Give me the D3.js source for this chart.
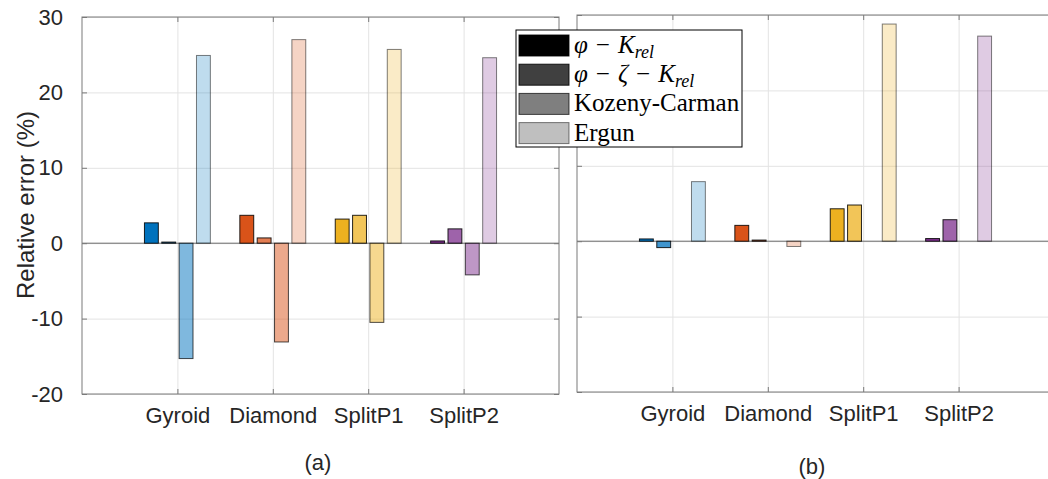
<!DOCTYPE html>
<html lang="en">
<head>
    <meta charset="UTF-8">
    <title>Relative error</title>
    <script src="https://d3js.org/d3.v7.min.js"></script>
    <style>
        body { margin: 0; background: #fff; }
        svg { display: block; }
        .tick text { font-family: "Liberation Sans", Arial, sans-serif; font-size: 22px; fill: #262626; }
        .grid line { stroke: #e3e3e3; stroke-width: 1; }
        .grid path, .ticks path { display: none; }
        .ticks line { stroke: #7a7a7a; }
        .lbl { font-family: "Liberation Sans", Arial, sans-serif; fill: #262626; }
        .leg { font-family: "Liberation Serif", "Times New Roman", serif; font-size: 25px; fill: #000; }
    </style>
</head>
<body>
    <script>
        const width = 1048;
        const height = 479;

        // data
        const categories = ["Gyroid", "Diamond", "SplitP1", "SplitP2"];
        const methods = ["φ − K_rel", "φ − ζ − K_rel", "Kozeny-Carman", "Ergun"];
        const yTicks = [-20, -10, 0, 10, 20, 30];

        // panel (a)
        const a_phiK      = [2.7, 3.7, 3.2, 0.3];
        const a_phiZetaK  = [0.15, 0.7, 3.7, 1.9];
        const a_kozeny    = [-15.3, -13.1, -10.5, -4.2];
        const a_ergun     = [24.9, 27.0, 25.7, 24.6];
        // panel (b)
        const b_phiK      = [0.3, 2.1, 4.3, 0.35];
        const b_phiZetaK  = [-0.85, 0.15, 4.8, 2.85];
        const b_kozeny    = [0, 0, 0, 0];
        const b_ergun     = [7.9, -0.7, 28.8, 27.2];

        const baseColors = ["#0072BD", "#D95319", "#EDB120", "#7E2F8E"];
        const alphas = [1, 0.75, 0.5, 0.25];
        const edgeAlpha = [0.85, 0.85, 0.7, 0.5];

        let svg = d3.select("body")
            .append("svg")
            .attr("width", width)
            .attr("height", height);

        function drawPanel(series, box, showLabels, caption) {
            const x = d3.scaleLinear().domain([0, 5]).range([box.left, box.right]);
            const y = d3.scaleLinear().domain([-20, 30]).range([box.bottom, box.top]);
            const g = svg.append("g");

            // grid
            g.append("g").attr("class", "grid")
                .attr("transform", `translate(${box.left},0)`)
                .call(d3.axisLeft(y).tickValues(yTicks).tickSize(-(box.right - box.left)).tickFormat(""));
            g.append("g").attr("class", "grid")
                .attr("transform", `translate(0,${box.bottom})`)
                .call(d3.axisBottom(x).tickValues([1, 2, 3, 4]).tickSize(-(box.bottom - box.top)).tickFormat(""));

            // bars, matlab style grouping
            const nS = series.length;
            const groupW = Math.min(0.8, nS / (nS + 1.5));
            const step = groupW / nS;
            const barW = step * 0.8;
            const rows = [];
            series.forEach((vals, j) => {
                vals.forEach((v, i) => rows.push({ i, j, v }));
            });

            // baseline
            g.append("line")
                .attr("x1", box.left).attr("x2", box.right)
                .attr("y1", y(0)).attr("y2", y(0))
                .attr("stroke", "#6a6a6a").attr("stroke-width", 1);

            g.selectAll("rect.bar")
                .data(rows)
                .enter()
                .append("rect")
                .attr("class", "bar")
                .attr("x", d => x(d.i + 1 + (d.j - (nS - 1) / 2) * step - barW / 2))
                .attr("width", x(barW) - x(0))
                .attr("y", d => y(Math.max(0, d.v)))
                .attr("height", d => Math.abs(y(d.v) - y(0)))
                .attr("fill", d => baseColors[d.i])
                .attr("fill-opacity", d => alphas[d.j])
                .attr("stroke", "#000")
                .attr("stroke-opacity", d => edgeAlpha[d.j])
                .attr("stroke-width", 1);

            // box
            g.append("rect")
                .attr("x", box.left).attr("y", box.top)
                .attr("width", box.right - box.left).attr("height", box.bottom - box.top)
                .attr("fill", "none").attr("stroke", "#7a7a7a").attr("stroke-width", 1);

            // ticks
            const yl = g.append("g").attr("class", "ticks")
                .attr("transform", `translate(${box.left},0)`)
                .call(d3.axisLeft(y).tickValues(yTicks).tickSizeInner(-5).tickSizeOuter(0)
                    .tickPadding(19).tickFormat(d => String(d)));
            if (!showLabels) yl.selectAll("text").remove();
            g.append("g").attr("class", "ticks")
                .attr("transform", `translate(${box.right},0)`)
                .call(d3.axisRight(y).tickValues(yTicks).tickSizeInner(-5).tickSizeOuter(0).tickFormat(""));
            g.append("g").attr("class", "ticks")
                .attr("transform", `translate(0,${box.bottom})`)
                .call(d3.axisBottom(x).tickValues([1, 2, 3, 4]).tickSizeInner(-5).tickSizeOuter(0)
                    .tickPadding(13).tickFormat(d => categories[d - 1]));
            g.append("g").attr("class", "ticks")
                .attr("transform", `translate(0,${box.top})`)
                .call(d3.axisTop(x).tickValues([1, 2, 3, 4]).tickSizeInner(-5).tickSizeOuter(0).tickFormat(""));

            g.append("text").attr("class", "lbl")
                .attr("x", caption.x).attr("y", caption.y)
                .attr("text-anchor", "middle")
                .style("font-size", "22px")
                .text(caption.text);
        }

        drawPanel([a_phiK, a_phiZetaK, a_kozeny, a_ergun],
            { left: 82, right: 559, top: 17, bottom: 394 }, true, { x: 318, y: 470, text: "(a)" });
        drawPanel([b_phiK, b_phiZetaK, b_kozeny, b_ergun],
            { left: 577, right: 1054, top: 15, bottom: 392 }, false, { x: 812, y: 474, text: "(b)" });

        svg.append("text").attr("class", "lbl")
            .attr("transform", "translate(34,205) rotate(-90)")
            .attr("text-anchor", "middle")
            .style("font-size", "24px")
            .text("Relative error (%)");

        // legend
        const leg = svg.append("g").attr("transform", "translate(516,30)");
        leg.append("rect")
            .attr("width", 226).attr("height", 117)
            .attr("fill", "#fff").attr("stroke", "#000").attr("stroke-width", 1);

        const legItems = leg.selectAll("g.item")
            .data(methods)
            .enter()
            .append("g")
            .attr("class", "item")
            .attr("transform", (d, i) => `translate(3,${5 + i * 29.2})`);

        legItems.append("rect")
            .attr("width", 50).attr("height", 21)
            .attr("fill", "#000")
            .attr("fill-opacity", (d, i) => alphas[i])
            .attr("stroke", "#000")
            .attr("stroke-opacity", (d, i) => edgeAlpha[i]);

        legItems.each(function (d) {
            const t = d3.select(this).append("text")
                .attr("class", "leg")
                .attr("x", 55).attr("y", 18);
            if (d.includes("_")) {
                const [main, sub] = d.split("_");
                main.split(" ").forEach((tok, k) => {
                    const isOp = tok === "−";
                    t.append("tspan")
                        .attr("dx", k === 0 ? 0 : 8)
                        .style("font-style", isOp ? "normal" : "italic")
                        .text(tok);
                });
                t.append("tspan")
                    .style("font-style", "italic")
                    .style("font-size", "18px")
                    .attr("baseline-shift", "-5px")
                    .text(sub);
            } else {
                t.text(d);
            }
        });
    </script>
</body>
</html>
